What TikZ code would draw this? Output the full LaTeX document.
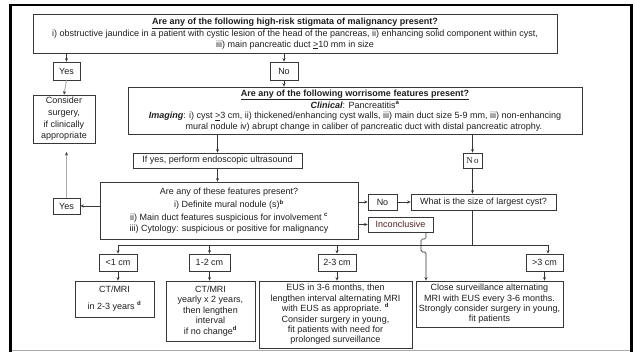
\documentclass[tikz,border=0pt]{standalone}
\usepackage{fontspec}
\setmainfont{Liberation Sans}
\newfontfamily\serifno{Liberation Serif}
\usetikzlibrary{arrows.meta}
\definecolor{bordc}{RGB}{55,55,55}
\definecolor{txtc}{RGB}{30,30,30}
\definecolor{graylc}{RGB}{170,170,170}
\definecolor{incc}{RGB}{80,30,30}
\newcommand{\sps}[1]{\textsuperscript{\textbf{#1}}}
\begin{document}
\begin{tikzpicture}[x=1pt,y=-1pt,
  box/.style={draw=bordc, line width=0.7pt, inner sep=0pt, align=center, text=txtc,
    font=\fontsize{9}{10.8}\selectfont},
  arr/.style={draw=bordc, line width=0.7pt, -{Stealth[length=3.5pt,width=3pt]}},
  garr/.style={draw=graylc, line width=0.9pt, -{Stealth[length=3.5pt,width=3pt,color=bordc]}},
  ln/.style={draw=bordc, line width=0.7pt}]
\useasboundingbox (0,0) rectangle (635,352);
% outer frame
\draw[black, line width=3pt] (10.5,4) -- (10.5,352);
\draw[black, line width=2.5pt] (9,5) -- (633,5);
\draw[black, line width=3pt] (631.5,4) -- (631.5,352);
\draw[graylc, line width=1pt] (12,350.5) -- (630,350.5);

\node[box, minimum width=524, minimum height=39] (b1) at (295,33.5)
 {\textbf{\underline{Are any of the following high-risk stigmata of malignancy present?}}\\[1pt]
  i) obstructive jaundice in a patient with cystic lesion of the head of the pancreas, ii) enhancing solid component within cyst,\\
  iii) main pancreatic duct \underline{>}10 mm in size};
\node[box, minimum width=27, minimum height=18] (yesA) at (66.5,71) {Yes};
\node[box, minimum width=28, minimum height=18] (noA) at (284,71) {No};
\node[box, minimum width=62, minimum height=48, font=\fontsize{9}{11.6}\selectfont] (cons) at (64,119)
 {Consider\\surgery,\\if clinically\\appropriate};
\node[box, minimum width=454, minimum height=47] (b2) at (355,110.5)
 {\textbf{\underline{Are any of the following worrisome features present?}}\\
  \textbf{\textit{Clinical}}: Pancreatitis\sps{a}\\
  \textbf{\textit{Imaging}}: i) cyst \underline{>}3 cm, ii) thickened/enhancing cyst walls, iii) main duct size 5-9 mm, iii) non-enhancing\\
  \hspace*{18pt}mural nodule iv) abrupt change in caliber of pancreatic duct with distal pancreatic atrophy.};
\node[box, minimum width=169, minimum height=15] (ifyes) at (217.5,160.5) {If yes, perform endoscopic ultrasound};
\node[box, minimum width=19, minimum height=15] (noB) at (472.5,160.5) {\serifno N\,o};
\node[box, minimum width=258, minimum height=57] (b3) at (229,210.5)
 {Are any of these features present?\\[2.5pt]
  i) Definite mural nodule (s)\sps{b}\\[1.5pt]
  ii) Main duct features suspicious for involvement \sps{c}\\[0pt]
  iii) Cytology: suspicious or positive for malignancy};
\node[box, minimum width=27, minimum height=16] (yesB) at (66.5,206) {Yes};
\node[box, minimum width=29, minimum height=16] (noC) at (382.5,202) {No};
\node[box, minimum width=145, minimum height=16] (size) at (483.5,202) {What is the size of largest cyst?};
\node[box, minimum width=65, minimum height=15, text=incc] (inc) at (400.5,224.5) {Inconclusive};
\node[box, minimum width=38, minimum height=17] (lt1) at (118,262.5) {<1 cm};
\node[box, minimum width=41, minimum height=17] (c12) at (209.5,262.5) {1-2 cm};
\node[box, minimum width=38, minimum height=17] (c23) at (337,262.5) {2-3 cm};
\node[box, minimum width=37, minimum height=17] (gt3) at (544.5,262.5) {>3 cm};
\node[box, minimum width=79, minimum height=36] (r1) at (114.5,299) {CT/MRI\\[6pt]in 2-3 years \sps{d}};
\node[box, minimum width=89, minimum height=60, font=\fontsize{9}{10.6}\selectfont] (r2) at (210.5,311)
 {CT/MRI\\yearly x 2 years,\\then lengthen\\interval\\if no change\sps{d}};
\node[box, minimum width=153, minimum height=67, font=\fontsize{9}{10.4}\selectfont] (r3) at (335.5,314.5)
 {EUS in 3-6 months, then\\lengthen interval alternating MRI\\with EUS as appropriate. \sps{d}\\Consider surgery in young,\\fit patients with need for\\prolonged surveillance};
\node[box, minimum width=147, minimum height=46, font=\fontsize{9}{10.3}\selectfont] (r4) at (489.5,304)
 {Close surveillance alternating\\MRI with EUS every 3-6 months.\\Strongly consider surgery in young,\\fit patients};

% connectors
\draw[arr] (yesA |- b1.south) -- (yesA.north);
\draw[arr] (noA |- b1.south) -- (noA.north);
\draw[garr] (yesA.south) -- (cons.north);
\draw[arr] (noA.south) -- (noA |- b2.north);
\draw[arr] (ifyes |- b2.south) -- (ifyes.north);
\draw[arr] (noB |- b2.south) -- (noB.north);
\draw[arr] (ifyes.south) -- (ifyes.south |- b3.north);
\draw[arr] (b3.west |- yesB) -- (yesB.east);
\coordinate (gtip) at (66.5,152);
\draw[garr] (yesB.north) -- (gtip);
\draw[arr] (b3.east |- noC) -- (noC.west);
\draw[arr] (noC.east) -- (size.west);
\draw[arr] (noB.south) -- (noB |- size.north);
\draw[arr] (b3.east |- inc) -- (inc.west);
\coordinate (hub) at (472.5,245);
\coordinate (hl) at (118,245);
\coordinate (hr) at (548,245);
\draw[ln] (size.south -| hub) -- (hub);
\draw[ln] (hl) -- (hr);
\draw[arr] (hl) -- (lt1.north);
\draw[arr] (c12.north |- hl) -- (c12.north);
\draw[arr] (c23.north |- hl) -- (c23.north);
\draw[arr] (hr) -- (hr |- gt3.north);
\draw[arr] (lt1.south) -- (lt1.south |- r1.north);
\draw[arr] (c12.south) -- (c12.south |- r2.north);
\draw[arr] (c23.south) -- (c23.south |- r3.north);
\draw[arr] (gt3.south) -- (gt3.south |- r4.north);
\coordinate (ic) at (426,0);
\draw[arr, rounded corners=1.5pt] (ic |- inc.south) -- (426,239) -- (421,239) -- (421,252) -- (426,252) -- (ic |- r4.north);
\end{tikzpicture}
\end{document}
